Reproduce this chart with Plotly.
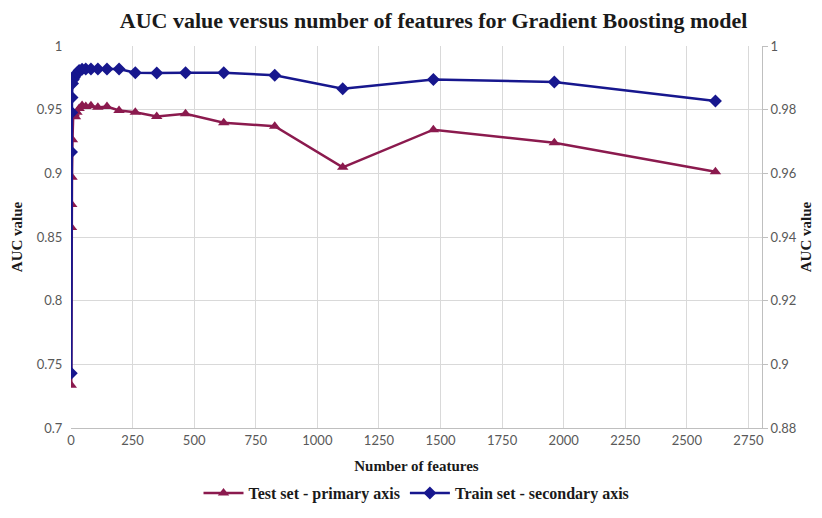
import plotly.graph_objects as go

features = [1, 2, 3, 4, 6, 9, 13, 18, 24, 33, 45, 60, 81, 109, 146, 195,
            261, 348, 465, 620, 827, 1103, 1471, 1962, 2616]
test_auc = [0.7335, 0.8574, 0.8756, 0.8970, 0.9264, 0.9455, 0.9468, 0.9445, 0.9480,
            0.9510, 0.9533, 0.9525, 0.9530, 0.9518, 0.9525, 0.9494,
            0.9480, 0.9447, 0.9468, 0.9397, 0.9370, 0.9047, 0.9343, 0.9240, 0.9012]
train_auc = [0.8972, 0.9667, 0.9791, 0.9838, 0.9882, 0.9895, 0.9901, 0.9907, 0.9915,
             0.9923, 0.9927, 0.9928, 0.9928, 0.9928, 0.9928, 0.9928,
             0.9916, 0.9915, 0.9916, 0.9916, 0.9908, 0.9866, 0.9895, 0.9887, 0.9827]

x_ticks = [0, 250, 500, 750, 1000, 1250, 1500, 1750, 2000, 2250, 2500, 2750]
y1_ticks = [0.7, 0.75, 0.8, 0.85, 0.9, 0.95, 1.0]
y1_labels = ["0.7", "0.75", "0.8", "0.85", "0.9", "0.95", "1"]
y2_ticks = [0.88, 0.9, 0.92, 0.94, 0.96, 0.98, 1.0]
y2_labels = ["0.88", "0.9", "0.92", "0.94", "0.96", "0.98", "1"]

TEST_C = "#8B1A4E"
TRAIN_C = "#17178E"
SERIF = "Liberation Serif, DejaVu Serif, serif"
SANS = "Lato, Liberation Sans, sans-serif"

fig = go.Figure()
fig.add_trace(go.Scatter(
    x=features, y=test_auc, name="<b>Test set - primary axis</b>", mode="lines+markers",
    line=dict(color=TEST_C, width=2.5),
    marker=dict(symbol="triangle-up", size=10, color=TEST_C),
    yaxis="y"))
fig.add_trace(go.Scatter(
    x=features, y=train_auc, name="<b>Train set - secondary axis</b>", mode="lines+markers",
    line=dict(color=TRAIN_C, width=2.5),
    marker=dict(symbol="diamond", size=10, color=TRAIN_C),
    yaxis="y2"))

fig.update_layout(
    width=806, height=502,
    margin=dict(l=63, r=52, t=38, b=82),
    paper_bgcolor="white", plot_bgcolor="white",
    title=dict(text="<b>AUC value versus number of features for Gradient Boosting model</b>",
               x=0.528, xref="container", xanchor="center",
               y=1.0, yref="container", yanchor="top",
               pad=dict(t=5),
               font=dict(family=SERIF, size=22, color="#1a1a1a")),
    xaxis=dict(range=[0, 2805], tickvals=x_ticks, ticktext=[str(v) for v in x_ticks],
               showgrid=True, gridcolor="#D9D9D9", gridwidth=1,
               showline=True, linecolor="#BFBFBF", linewidth=1,
               zeroline=False, ticks="", automargin=False,
               tickfont=dict(family=SANS, size=13, color="#595959"),
               title=dict(text="<b>Number of features</b>", standoff=13,
                          font=dict(family=SERIF, size=15, color="#1a1a1a"))),
    yaxis=dict(range=[0.7, 1.0], tickvals=y1_ticks, ticktext=y1_labels,
               showgrid=True, gridcolor="#D9D9D9", gridwidth=1,
               showline=False, zeroline=False,
               ticks="outside", ticklen=5, tickcolor="rgba(0,0,0,0)", automargin=False,
               tickfont=dict(family=SANS, size=13, color="#595959"),
               title=dict(text="<b>AUC value</b>", standoff=10,
                          font=dict(family=SERIF, size=15, color="#1a1a1a"))),
    yaxis2=dict(range=[0.88, 1.0], tickvals=y2_ticks, ticktext=y2_labels,
                overlaying="y", side="right", showgrid=False,
                showline=True, linecolor="#BFBFBF", linewidth=1, zeroline=False,
                ticks="outside", ticklen=5, tickcolor="#BFBFBF", automargin=False,
                tickfont=dict(family=SANS, size=13, color="#595959"),
                title=dict(text="<b>AUC value</b>", standoff=4,
                           font=dict(family=SERIF, size=15, color="#1a1a1a"))),
    legend=dict(orientation="h", x=0.5, xanchor="center",
                yref="container", y=-0.014, yanchor="bottom",
                font=dict(family=SERIF, size=16, color="#1a1a1a"),
                itemwidth=40, traceorder="normal"),
    showlegend=True,
)

fig.write_html("out.html")
